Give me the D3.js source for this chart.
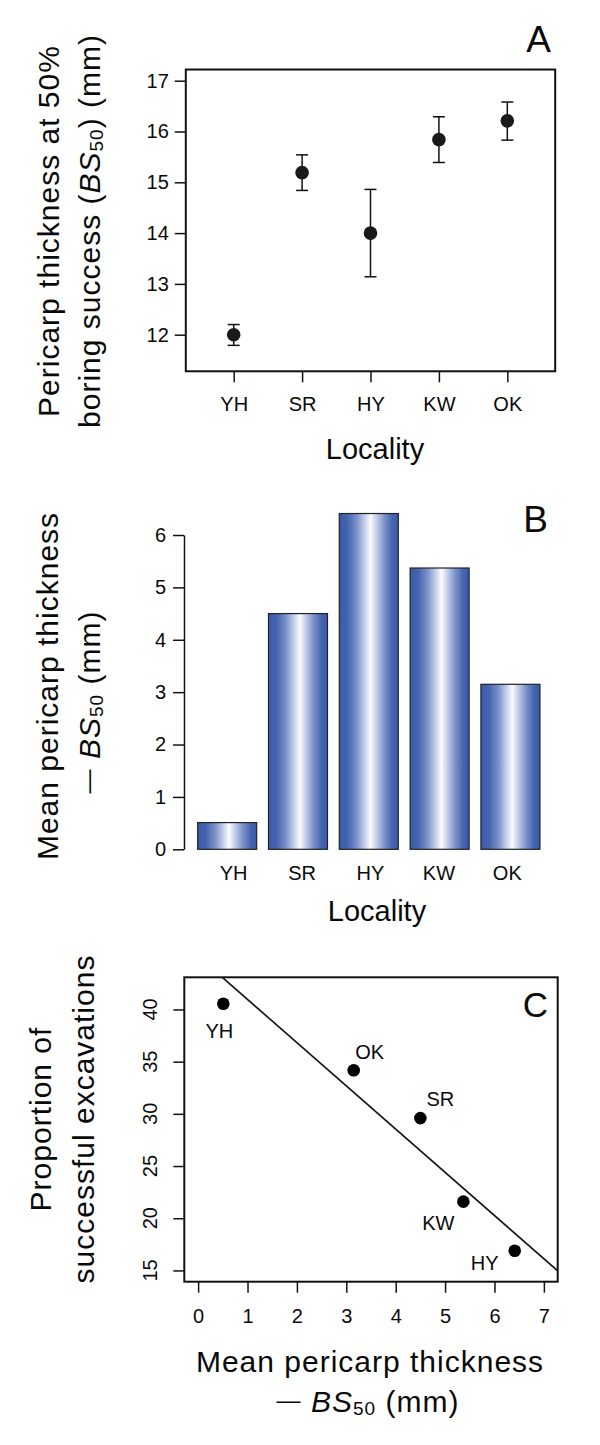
<!DOCTYPE html>
<html>
<head>
<meta charset="utf-8">
<script src="https://cdn.jsdelivr.net/npm/d3@7"></script>
<style>
  html, body { margin: 0; padding: 0; background: #fff; }
  svg { display: block; font-family: "Liberation Sans", Arial, Helvetica, sans-serif; }
  text { fill: #0a0a0a; }
</style>
</head>
<body>
<svg id="chart" width="600" height="1445"></svg>
<script>
// ---------------- data ----------------
const categories = ["YH", "SR", "HY", "KW", "OK"];
// Panel A: BS50 (mm) with interval
const bs50     = [12.00, 15.19, 14.00, 15.84, 16.21];
const bs50Low  = [11.79, 14.84, 13.14, 15.39, 15.83];
const bs50High = [12.20, 15.54, 14.86, 16.29, 16.58];
const ticksA = [12, 13, 14, 15, 16, 17];
// Panel B: mean pericarp thickness - BS50 (mm)
const thicknessDiff = [0.51, 4.50, 6.41, 5.37, 3.15];
const ticksB = [0, 1, 2, 3, 4, 5, 6];
// Panel C: proportion of successful excavations vs thickness diff
const excavation = [40.55, 29.59, 16.88, 21.59, 34.17];
const fitIntercept = 45.1;
const fitSlope = -4.14;
const ticksCx = [0, 1, 2, 3, 4, 5, 6, 7];
const ticksCy = [15, 20, 25, 30, 35, 40];

// ---------------- layout ----------------
const svg = d3.select("#chart");
const FONT_TICK = 20, FONT_TITLE = 30, FONT_PANEL = 37;
const FF = "Liberation Sans, Arial, sans-serif";
const fmt = d3.format("d");
// point-label offsets for panel C (style)
const labelOffsetC = { YH: [-4, 34], SR: [20, -12], HY: [-30, 19], KW: [-25, 28], OK: [16, -11] };

function styleAxis(g) {
  g.attr("font-size", FONT_TICK).attr("font-family", FF);
  g.select(".domain").remove();
  g.selectAll(".tick line").attr("stroke", "#111").attr("stroke-width", 1.5);
  g.selectAll(".tick text").attr("font-size", FONT_TICK).attr("fill", "#0a0a0a");
}
function bsTitle(textSel, prefix, suffix, withDash) {
  if (withDash) {
    textSel.append("tspan").attr("font-size", 24).attr("dy", -4).text("\u2014");
    textSel.append("tspan").attr("dy", 4).text(prefix);
  } else {
    textSel.append("tspan").text(prefix);
  }
  textSel.append("tspan").attr("font-style", "italic").text("BS");
  textSel.append("tspan").attr("font-size", 19).attr("dy", 3).text("50");
  textSel.append("tspan").attr("dy", -3).text(suffix);
}

// ================= Panel A =================
const xA = d3.scaleLinear().domain([0.3, 5.7]).range([185.8, 555.2]);
const yA = d3.scaleLinear().domain([12, 17]).range([334.7, 80.7]);
const gA = svg.append("g");

gA.append("rect")
  .attr("x", xA(0.3)).attr("y", yA(17.22))
  .attr("width", xA(5.7) - xA(0.3)).attr("height", yA(11.28) - yA(17.22))
  .attr("fill", "none").attr("stroke", "#111").attr("stroke-width", 2);

gA.append("g").attr("transform", `translate(0,${yA(11.28)})`)
  .call(d3.axisBottom(xA).tickValues([1, 2, 3, 4, 5]).tickFormat((d) => categories[d - 1])
    .tickSize(11).tickPadding(15))
  .call(styleAxis);

gA.append("g").attr("transform", `translate(${xA(0.3)},0)`)
  .call(d3.axisLeft(yA).tickValues(ticksA).tickFormat(fmt).tickSize(11).tickPadding(6))
  .call(styleAxis);

const errA = gA.append("g").attr("stroke", "#111").attr("stroke-width", 1.5);
categories.forEach((c, i) => {
  const x = xA(i + 1);
  errA.append("line").attr("x1", x).attr("x2", x).attr("y1", yA(bs50Low[i])).attr("y2", yA(bs50High[i]));
  errA.append("line").attr("x1", x - 6).attr("x2", x + 6).attr("y1", yA(bs50Low[i])).attr("y2", yA(bs50Low[i]));
  errA.append("line").attr("x1", x - 6).attr("x2", x + 6).attr("y1", yA(bs50High[i])).attr("y2", yA(bs50High[i]));
});
gA.selectAll("circle.pt").data(bs50).join("circle")
  .attr("cx", (d, i) => xA(i + 1)).attr("cy", (d) => yA(d)).attr("r", 6.8)
  .attr("fill", "#1a1a1a");

gA.append("text").attr("x", 375).attr("y", 459).attr("text-anchor", "middle")
  .attr("font-size", 29).text("Locality");
gA.append("text").attr("x", 551).attr("y", 52).attr("text-anchor", "end")
  .attr("font-size", FONT_PANEL).text("A");

// y title A
const tA = gA.append("g").attr("transform", "translate(59,231) rotate(-90)");
tA.append("text").attr("text-anchor", "middle").attr("font-size", FONT_TITLE).attr("letter-spacing", 1)
  .text("Pericarp thickness at 50%");
const tA2 = tA.append("text").attr("y", 41).attr("text-anchor", "middle").attr("font-size", FONT_TITLE).attr("letter-spacing", 1);
bsTitle(tA2, "boring success (", ") (mm)", false);

// ================= Panel B =================
const xB = d3.scaleBand().domain(categories).range([184, 553.6]).paddingInner(1 / 6).paddingOuter(0.193);
const yB = d3.scaleLinear().domain([0, 6]).range([849.3, 535]);
const gB = svg.append("g");

const defs = svg.append("defs");
const grad = defs.append("linearGradient").attr("id", "barGrad").attr("x1", "0%").attr("x2", "100%").attr("y1", "0%").attr("y2", "0%");
[[0, "#3a5aa8"], [0.14, "#4665b0"], [0.3, "#7d93cb"], [0.44, "#c9d3ec"], [0.53, "#fbfcff"], [0.62, "#c9d3ec"], [0.76, "#7d93cb"], [0.9, "#4665b0"], [1, "#3a5aa8"]]
  .forEach(([o, c]) => grad.append("stop").attr("offset", o).attr("stop-color", c));

gB.selectAll("rect.bar").data(thicknessDiff).join("rect")
  .attr("x", (d, i) => xB(categories[i])).attr("width", xB.bandwidth())
  .attr("y", (d) => yB(d)).attr("height", (d) => yB(0) - yB(d))
  .attr("fill", "url(#barGrad)").attr("stroke", "#222").attr("stroke-width", 1.2);

const axB = gB.append("g").attr("transform", "translate(184,0)")
  .call(d3.axisLeft(yB).tickValues(ticksB).tickFormat(fmt).tickSize(11).tickPadding(7).tickSizeOuter(0));
axB.attr("font-size", FONT_TICK).attr("font-family", FF);
axB.selectAll(".tick line").attr("stroke", "#111").attr("stroke-width", 1.5);
axB.select(".domain").attr("stroke", "#111").attr("stroke-width", 1.5);
axB.selectAll(".tick text").attr("font-size", FONT_TICK).attr("fill", "#0a0a0a");

gB.selectAll("text.cat").data(categories).join("text")
  .attr("x", (d, i) => xA(i + 1)).attr("y", 880).attr("text-anchor", "middle")
  .attr("font-size", FONT_TICK).text((d) => d);

gB.append("text").attr("x", 377).attr("y", 921).attr("text-anchor", "middle")
  .attr("font-size", 29).text("Locality");
gB.append("text").attr("x", 548).attr("y", 532).attr("text-anchor", "end")
  .attr("font-size", FONT_PANEL).text("B");

gB.append("text").attr("transform", "translate(58,686) rotate(-90)").attr("text-anchor", "middle")
  .attr("font-size", FONT_TITLE).attr("letter-spacing", 1).text("Mean pericarp thickness");
const tB2 = gB.append("text").attr("transform", "translate(100,702) rotate(-90)").attr("text-anchor", "middle")
  .attr("font-size", FONT_TITLE).attr("letter-spacing", 1);
bsTitle(tB2, "  ", " (mm)", true);

// ================= Panel C =================
const xC = d3.scaleLinear().domain([-0.28, 7.28]).range([184.3, 557.7]);
const yC = d3.scaleLinear().domain([13.92, 43.08]).range([1281.7, 977.3]);
const gC = svg.append("g");

defs.append("clipPath").attr("id", "clipC").append("rect")
  .attr("x", xC(-0.28)).attr("y", yC(43.08)).attr("width", xC(7.28) - xC(-0.28)).attr("height", yC(13.92) - yC(43.08));

gC.append("rect")
  .attr("x", xC(-0.28)).attr("y", yC(43.08))
  .attr("width", xC(7.28) - xC(-0.28)).attr("height", yC(13.92) - yC(43.08))
  .attr("fill", "none").attr("stroke", "#111").attr("stroke-width", 2);

gC.append("g").attr("transform", `translate(0,${yC(13.92)})`)
  .call(d3.axisBottom(xC).tickValues(ticksCx).tickFormat(fmt).tickSize(11).tickPadding(16))
  .call(styleAxis);

gC.append("g").attr("transform", `translate(${xC(-0.28)},0)`)
  .call(d3.axisLeft(yC).tickValues(ticksCy).tickSize(11).tickFormat(""))
  .call(styleAxis);
gC.selectAll("text.ylab").data(ticksCy).join("text")
  .attr("transform", (d) => `translate(157,${yC(d)}) rotate(-90)`)
  .attr("text-anchor", "middle").attr("font-size", FONT_TICK).text((d) => d);

gC.append("line").attr("clip-path", "url(#clipC)")
  .attr("x1", xC(-0.28)).attr("y1", yC(fitIntercept + fitSlope * -0.28))
  .attr("x2", xC(7.28)).attr("y2", yC(fitIntercept + fitSlope * 7.28))
  .attr("stroke", "#111").attr("stroke-width", 1.6);

gC.selectAll("circle.pt").data(excavation).join("circle")
  .attr("cx", (d, i) => xC(thicknessDiff[i])).attr("cy", (d) => yC(d)).attr("r", 6.3)
  .attr("fill", "#000");

gC.selectAll("text.ptlab").data(excavation).join("text")
  .attr("x", (d, i) => xC(thicknessDiff[i]) + labelOffsetC[categories[i]][0])
  .attr("y", (d) => yC(d))
  .attr("dy", (d, i) => labelOffsetC[categories[i]][1])
  .attr("text-anchor", "middle").attr("font-size", FONT_TICK)
  .text((d, i) => categories[i]);

gC.append("text").attr("x", 548).attr("y", 1017).attr("text-anchor", "end")
  .attr("font-size", 35).text("C");

const tC = gC.append("g").attr("transform", "translate(51,1119) rotate(-90)");
tC.append("text").attr("text-anchor", "middle").attr("font-size", FONT_TITLE).attr("letter-spacing", 1).text("Proportion of");
tC.append("text").attr("y", 43).attr("text-anchor", "middle").attr("font-size", FONT_TITLE).attr("letter-spacing", 1).text("successful excavations");

gC.append("text").attr("x", 370).attr("y", 1372).attr("text-anchor", "middle")
  .attr("font-size", FONT_TITLE).attr("letter-spacing", 1).text("Mean pericarp thickness");
const tCx2 = gC.append("text").attr("x", 368).attr("y", 1412).attr("text-anchor", "middle")
  .attr("font-size", FONT_TITLE).attr("letter-spacing", 1);
bsTitle(tCx2, "  ", " (mm)", true);
</script>
</body>
</html>
